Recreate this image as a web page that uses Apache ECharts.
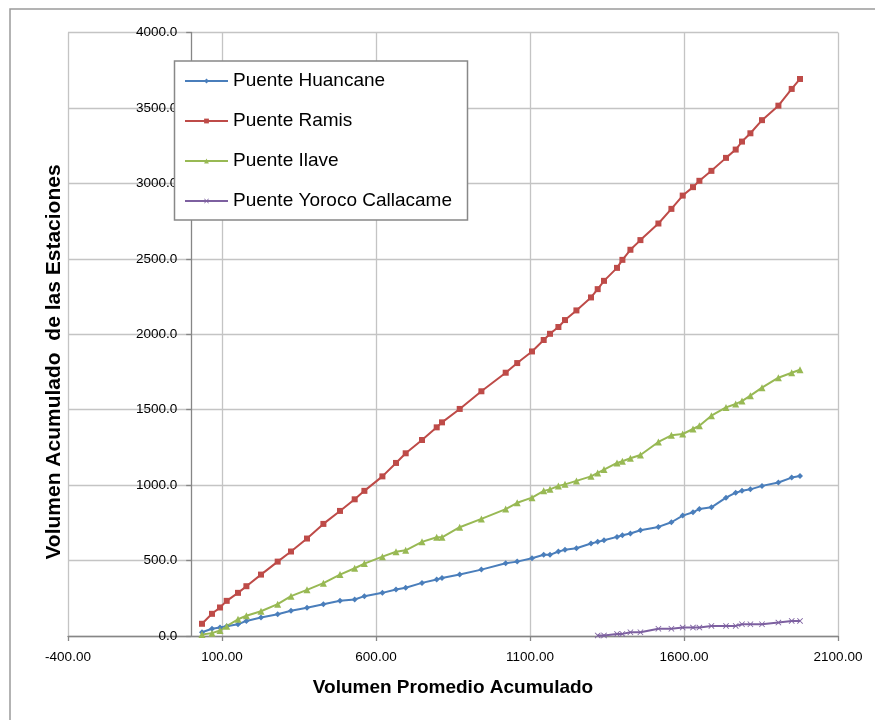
<!DOCTYPE html>
<html>
<head>
<meta charset="utf-8">
<script src="https://cdn.jsdelivr.net/npm/echarts@6/dist/echarts.min.js"></script>
<style>
  html, body { margin: 0; padding: 0; background: #fff; }
  #chart { width: 875px; height: 720px; }
</style>
</head>
<body>
<div id="chart"></div>
<script>
// Volumen promedio acumulado (eje X compartido por todas las estaciones)
const volPromedio = [35.1, 67.5, 93.5, 115.3, 152.0, 179.2, 226.6, 280.8, 324.0, 376.0,
  429.2, 483.1, 530.8, 562.3, 620.8, 665.0, 696.4, 749.4, 797.1, 814.3,
  871.8, 942.2, 1021.1, 1058.5, 1106.5, 1144.5, 1165.0, 1192.2, 1213.7, 1250.7,
  1298.1, 1319.8, 1340.3, 1382.5, 1400.0, 1426.0, 1458.5, 1516.9, 1559.1, 1595.8,
  1629.2, 1650.0, 1689.0, 1736.4, 1767.9, 1788.3, 1815.6, 1853.3, 1906.5, 1949.7, 1976.7];

// Volumen acumulado de cada estación
const huancane = [25, 48, 56, 65, 78, 100, 122, 144, 167, 187,
  211, 233, 242, 264, 286, 308, 320, 352, 374, 385,
  407, 440, 482, 493, 515, 538, 538, 560, 571, 582,
  613, 624, 635, 657, 668, 679, 701, 723, 754, 798,
  820, 842, 853, 917, 950, 962, 972, 995, 1017, 1050, 1061];

const ramis = [81, 147, 189, 233, 286, 330, 407, 493, 560, 646,
  743, 829, 906, 962, 1058, 1147, 1211, 1299, 1383, 1416,
  1505, 1622, 1745, 1809, 1886, 1962, 2003, 2048, 2094, 2158,
  2244, 2299, 2354, 2440, 2493, 2560, 2624, 2734, 2831, 2919,
  2975, 3017, 3083, 3169, 3224, 3277, 3332, 3419, 3515, 3626, 3692];

const ilave = [10, 19, 36, 65, 111, 134, 164, 211, 264, 306,
  350, 407, 449, 480, 526, 558, 568, 624, 654, 654,
  721, 776, 841, 883, 917, 962, 972, 995, 1005, 1028,
  1058, 1081, 1103, 1147, 1158, 1178, 1200, 1286, 1330, 1339,
  1372, 1394, 1460, 1515, 1538, 1557, 1593, 1646, 1712, 1745, 1765];

// Yoroco Callacame solo tiene registros a partir del punto 31
const yorocoInicio = 31;
const yoroco = [4, 4, 14, 14, 25, 25, 48, 48, 56, 56,
  56, 67, 67, 67, 78, 78, 78, 89, 100, 100];

const seriesNames = ['Puente Huancane', 'Puente Ramis', 'Puente Ilave', 'Puente Yoroco Callacame'];
const xTitle = 'Volumen Promedio Acumulado';
const yTitle = 'Volumen Acumulado  de las Estaciones';

const FONT = '"Liberation Sans", Arial, sans-serif';
const crossSymbol = 'path://M0,1L1,0L5,4L9,0L10,1L6,5L10,9L9,10L5,6L1,10L0,9L4,5Z';

// Área de trazado y rango del eje X (el eje Y se dibuja en X = 0)
const plotLeft = 68, plotRight = 37;
const xMin = -400, xMax = 2100;
const plotWidth = 875 - plotLeft - plotRight;
const yAxisShift = (0 - xMin) / (xMax - xMin) * plotWidth;

const pairs = (ys, start) => ys.map((v, i) => [volPromedio[start + i], v]);

const lineSeries = (name, ys, start, color, symbol, size) => ({
  name: name,
  type: 'line',
  data: pairs(ys, start),
  symbol: symbol,
  symbolSize: size,
  showSymbol: true,
  lineStyle: { color: color, width: 2 },
  itemStyle: { color: color },
  emphasis: { disabled: true },
  z: 3
});

const chart = echarts.init(document.getElementById('chart'), null, { renderer: 'canvas' });

chart.setOption({
  animation: false,
  backgroundColor: '#ffffff',
  textStyle: { fontFamily: FONT },
  grid: { left: plotLeft, right: plotRight, top: 32.5, bottom: 84, containLabel: false },
  xAxis: {
    type: 'value',
    min: xMin,
    max: xMax,
    interval: 500,
    name: xTitle,
    nameLocation: 'middle',
    nameGap: 42,
    nameTextStyle: { fontFamily: FONT, fontSize: 19, fontWeight: 'bold', color: '#000' },
    axisLine: { show: true, onZero: true, lineStyle: { color: '#868686', width: 1.3 } },
    axisTick: { show: true, length: 5, lineStyle: { color: '#868686', width: 1.3 } },
    axisLabel: {
      margin: 14,
      fontSize: 13.5,
      color: '#000',
      fontFamily: FONT,
      formatter: v => v.toFixed(2)
    },
    splitLine: { show: true, lineStyle: { color: '#c4c4c4', width: 1.3 } }
  },
  yAxis: {
    type: 'value',
    min: 0,
    max: 4000,
    interval: 500,
    offset: -yAxisShift,
    axisLine: { show: true, onZero: false, lineStyle: { color: '#868686', width: 1.3 } },
    axisTick: { show: true, length: 5, lineStyle: { color: '#868686', width: 1.3 } },
    axisLabel: {
      margin: 14,
      fontSize: 13.5,
      color: '#000',
      fontFamily: FONT,
      formatter: v => v.toFixed(1)
    },
    splitLine: { show: true, lineStyle: { color: '#c4c4c4', width: 1.3 } }
  },
  legend: {
    orient: 'vertical',
    left: 184,
    top: 71,
    padding: 0,
    itemWidth: 43,
    itemHeight: 6,
    itemGap: 20,
    z: 10,
    textStyle: { fontFamily: FONT, fontSize: 19, color: '#000', lineHeight: 20 },
    data: seriesNames
  },
  graphic: [
    {
      type: 'rect',
      z: -1,
      silent: true,
      shape: { x: 10, y: 9, width: 900, height: 800 },
      style: { fill: 'none', stroke: '#9a9a9a', lineWidth: 1.5 }
    },
    {
      type: 'rect',
      z: 5,
      silent: true,
      shape: { x: 174.5, y: 61, width: 293, height: 159 },
      style: { fill: '#ffffff', stroke: '#888888', lineWidth: 1.5 }
    },
    {
      type: 'text',
      z: 5,
      silent: true,
      x: 54,
      y: 362,
      rotation: Math.PI / 2,
      style: {
        text: yTitle,
        x: 0,
        y: 0,
        font: 'bold 21px ' + FONT,
        fill: '#000',
        align: 'center',
        verticalAlign: 'middle',
        textAlign: 'center',
        textVerticalAlign: 'middle'
      }
    }
  ],
  series: [
    lineSeries(seriesNames[0], huancane, 0, '#4a7ebb', 'diamond', 6),
    lineSeries(seriesNames[1], ramis, 0, '#be4b48', 'rect', 6),
    lineSeries(seriesNames[2], ilave, 0, '#98b954', 'triangle', 7),
    lineSeries(seriesNames[3], yoroco, yorocoInicio, '#7d60a0', crossSymbol, 6)
  ]
});
</script>
</body>
</html>
